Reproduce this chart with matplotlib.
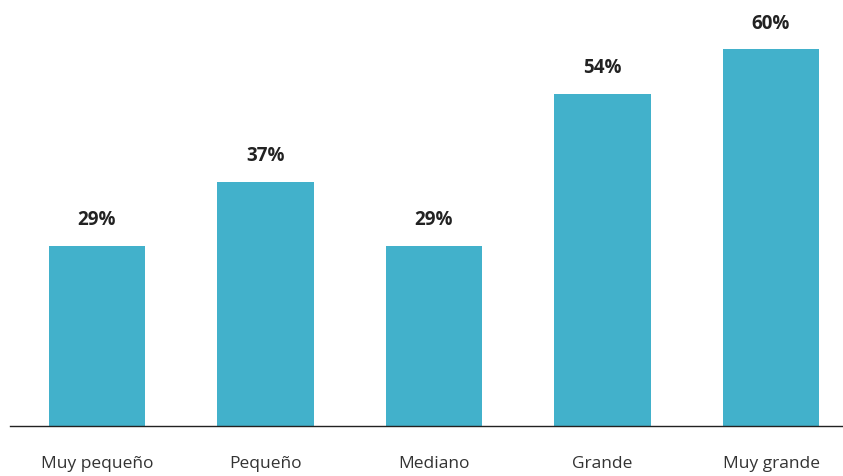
import matplotlib
matplotlib.use("Agg")
import matplotlib.pyplot as plt

categories = ["Muy pequeño", "Pequeño", "Mediano", "Grande", "Muy grande"]
values = [28.7, 38.9, 28.7, 52.9, 60.0]
labels = ["29%", "37%", "29%", "54%", "60%"]

plt.rcParams['font.family'] = ['Open Sans', 'DejaVu Sans']

fig = plt.figure(figsize=(8.43, 4.77), dpi=100)
ax = fig.add_axes([10/843, 50/477, 833/843, 427/477])
x = range(len(categories))
ax.bar(x, values, width=0.57, color="#42b1cb", zorder=2)
for xi, v, lab in zip(x, values, labels):
    ax.annotate(lab, (xi, v), xytext=(0, 19), textcoords="offset points",
                ha="center", va="center", fontsize=13.5, fontweight="bold", color="#222222")
ax.set_xlim(-0.516, 4.427)
ax.set_ylim(0, 60*427/377)
ax.set_xticks(list(x))
ax.set_xticklabels(categories, fontsize=12.5, color="#333333")
ax.tick_params(axis="x", length=0, pad=21)
ax.set_yticks([])
for s in ["top", "right", "left"]:
    ax.spines[s].set_visible(False)
ax.spines["bottom"].set_color("#222222")
ax.spines["bottom"].set_linewidth(1.0)
ax.spines["bottom"].set_zorder(3)
fig.savefig("out.png", dpi=100)
